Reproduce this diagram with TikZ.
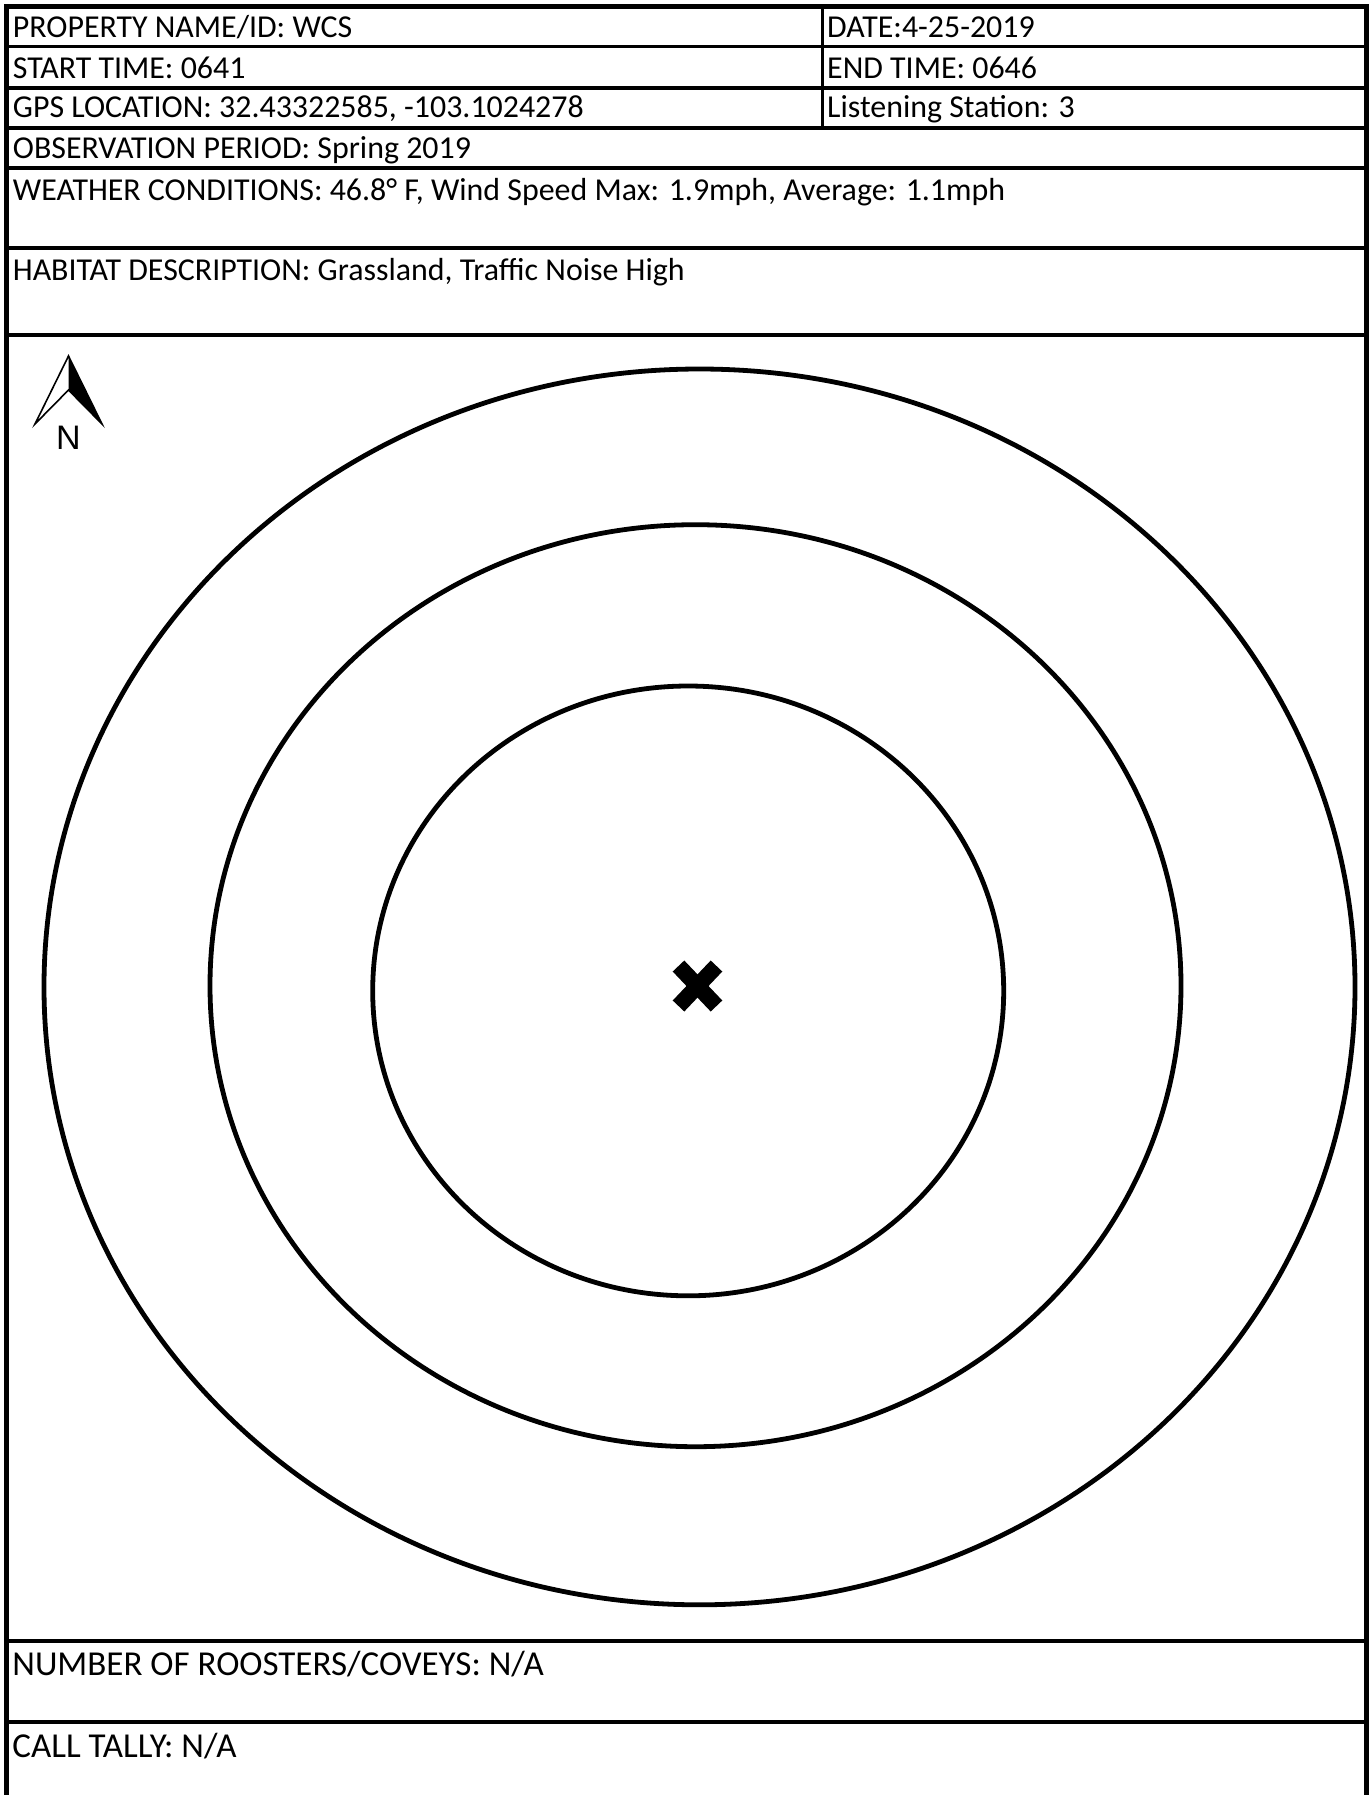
\documentclass[tikz,border=0pt]{standalone}
\usepackage{fontspec}
\setmainfont{Carlito}
\newfontfamily\arrowfont{Liberation Sans}
\begin{document}
\begin{tikzpicture}[x=0.5pt,y=-0.5pt,
  frame/.style={line width=2.9pt},
  rule/.style={line width=1.6pt},
  ring/.style={line width=2.4pt},
  lbl/.style={anchor=base west, inner sep=0pt, font=\fontsize{15.95}{19}\selectfont},
  biglbl/.style={lbl, font=\fontsize{17.5}{21}\selectfont}]
\useasboundingbox (0,0) rectangle (1369,1795);
\fill[white] (0,0) rectangle (1369,1795);
% horizontal rules
\foreach \y in {46.5,88,128,168,248,335,1641,1722}
  \draw[rule] (6.5,\y) -- (1366.5,\y);
\draw[rule] (822.3,6.5) -- (822.3,128);
% outer frame (bottom edge is cut off)
\draw[frame, line join=miter] (6.5,1795) -- (6.5,6.5) -- (1366.5,6.5) -- (1366.5,1795);
% texts
\node[lbl] (prop) at (12.5,37.7) {PROPERTY NAME/ID: WCS};
\node[lbl] (date) at (826.8,37.7) {DATE:4-25-2019};
\node[lbl] (start) at (12.5,78) {START TIME: 0641};
\node[lbl] (end) at (826.8,78) {END TIME: 0646};
\node[lbl] (gps) at (12.5,117.5) {GPS LOCATION: 32.43322585, -103.1024278};
\node[lbl] (stat) at (826.8,117.5) {Listening Station: 3};
\node[lbl] (obs) at (12.5,158) {OBSERVATION PERIOD: Spring 2019};
\node[lbl] (wea) at (12.5,200) {WEATHER CONDITIONS: 46.8° F, Wind Speed Max: 1.9mph, Average: 1.1mph};
\node[lbl] (hab) at (12.5,280) {HABITAT DESCRIPTION: Grassland, Traffic Noise High};
\node[biglbl] (roost) at (12,1675) {NUMBER OF ROOSTERS/COVEYS: N/A};
\node[biglbl] (tally) at (12,1757) {CALL TALLY: N/A};
% rings
\draw[ring] (699.5,986.9) ellipse [x radius=655.5, y radius=617.9];
\draw[ring] (695.5,985.7) ellipse [x radius=485.5, y radius=461];
\draw[ring] (688.2,990.9) ellipse [x radius=315.5, y radius=304.9];
% centre mark
\draw[line width=8pt] (678.5,966) -- (716.5,1006);
\draw[line width=8pt] (716.5,966) -- (678.5,1006);
% north arrow
\draw[line width=0.8pt, line join=miter] (68.5,356) -- (35,424) -- (68.5,390) -- (102,424) -- cycle;
\fill (68.5,356) -- (68.5,390) -- (102,424) -- cycle;
\node[font=\arrowfont\fontsize{17}{19}\selectfont, inner sep=0pt] (north) at (68.5,438) {N};
\end{tikzpicture}
\end{document}
